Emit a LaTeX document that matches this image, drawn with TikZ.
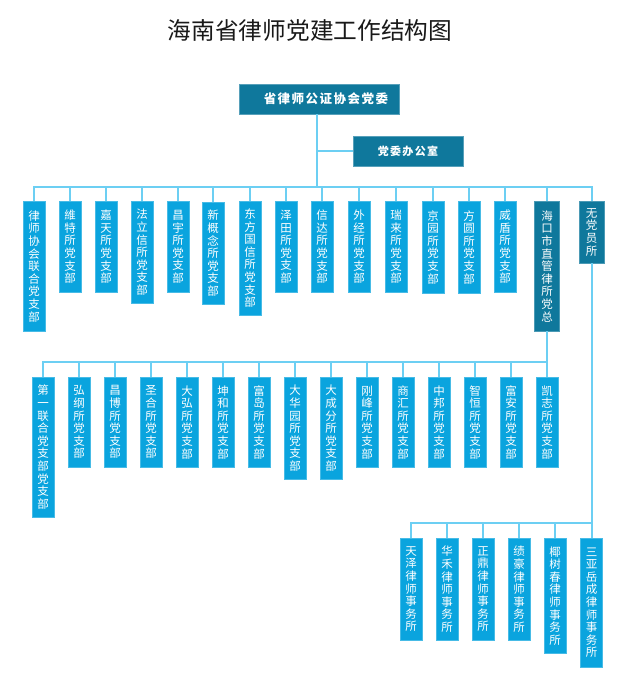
\documentclass[tikz,border=0pt]{standalone}
\usepackage{fontspec}
\newfontfamily\cjk{Noto Sans CJK SC}
\newfontfamily\cjkls[LetterSpace=12]{Noto Sans CJK SC}
\definecolor{lboxc}{HTML}{0AA4DE}
\definecolor{dboxc}{HTML}{0F789C}
\definecolor{connc}{HTML}{6CCFF3}
\makeatletter
\def\vt#1{\vt@a#1\@nil}
\def\vt@a#1{#1\vt@b}
\def\vt@b#1{\ifx#1\@nil\else\\#1\expandafter\vt@b\fi}
\makeatother
\tikzset{
  lb/.style={fill=lboxc, draw=lboxc!75!white, line width=0.5pt, text=white,
    minimum width=22pt, inner sep=0pt, anchor=north, align=center,
    font={\cjk\fontsize{11.5pt}{12.6pt}\selectfont}},
  db/.style={lb, fill=dboxc, draw=dboxc!75!white, minimum width=25pt},
  hb/.style={fill=dboxc, draw=dboxc!70!white, line width=0.6pt, text=white, inner sep=0pt,
    minimum height=30pt},
  cn/.style={draw=connc, line width=2pt},
  bus/.style={cn, line cap=rect},
}
\begin{document}
\begin{tikzpicture}[x=1pt,y=-1pt]
\fill[white] (0,0) rectangle (627,685);
\useasboundingbox (0,0) rectangle (627,685);

\node[font={\cjk\fontsize{23.7pt}{26pt}\selectfont}, text=black!90] (title) at (310,30) {海南省律师党建工作结构图};

\node[hb, minimum width=160pt, font={\cjkls\bfseries\fontsize{12.5pt}{14pt}\selectfont}] (top) at (319,99) {\hspace*{14pt}省律师公证协会党委};
\node[hb, minimum width=110pt, font={\cjkls\bfseries\fontsize{11pt}{13pt}\selectfont}] (office) at (408,151) {党委办公室};

% row 1
\node[lb, minimum height=130pt] (a1) at (34,201) {\vt{律师协会联合党支部}};
\node[lb, minimum height=91pt] (a2) at (70,201) {\vt{維特所党支部}};
\node[lb, minimum height=91pt] (a3) at (106,201) {\vt{嘉天所党支部}};
\node[lb, minimum height=102pt] (a4) at (142,201) {\vt{法立信所党支部}};
\node[lb, minimum height=91pt] (a5) at (178,201) {\vt{昌宇所党支部}};
\node[lb, minimum height=102pt] (a6) at (213,202) {\vt{新概念所党支部}};
\node[lb, minimum height=114pt] (a7) at (250,201) {\vt{东方国信所党支部}};
\node[lb, minimum height=91pt] (a8) at (286,201) {\vt{泽田所党支部}};
\node[lb, minimum height=91pt] (a9) at (322,201) {\vt{信达所党支部}};
\node[lb, minimum height=91pt] (a10) at (359,201) {\vt{外经所党支部}};
\node[lb, minimum height=91pt] (a11) at (396,201) {\vt{瑞来所党支部}};
\node[lb, minimum height=92pt] (a12) at (433,201) {\vt{京园所党支部}};
\node[lb, minimum height=92pt] (a13) at (469,201) {\vt{方圆所党支部}};
\node[lb, minimum height=91pt] (a14) at (505,201) {\vt{威盾所党支部}};
\node[db, minimum height=130pt] (a15) at (547,201) {\vt{海口市直管律所党总}};
\node[db, minimum height=62pt] (a16) at (591.5,201) {\vt{无党员所}};

% row 2
\node[lb, minimum height=140pt] (b1) at (43,377) {\vt{第一联合党支部党支部}};
\node[lb, minimum height=90pt] (b2) at (79,377) {\vt{弘纲所党支部}};
\node[lb, minimum height=90pt] (b3) at (115,377) {\vt{昌博所党支部}};
\node[lb, minimum height=90pt] (b4) at (151,377) {\vt{圣合所党支部}};
\node[lb, minimum height=90pt] (b5) at (187,377) {\vt{大弘所党支部}};
\node[lb, minimum height=90pt] (b6) at (223,377) {\vt{坤和所党支部}};
\node[lb, minimum height=90pt] (b7) at (259,377) {\vt{富岛所党支部}};
\node[lb, minimum height=102pt] (b8) at (295,377) {\vt{大华园所党支部}};
\node[lb, minimum height=102pt] (b9) at (331,377) {\vt{大成分所党支部}};
\node[lb, minimum height=90pt] (b10) at (367,377) {\vt{刚峰所党支部}};
\node[lb, minimum height=90pt] (b11) at (403,377) {\vt{商汇所党支部}};
\node[lb, minimum height=90pt] (b12) at (439,377) {\vt{中邦所党支部}};
\node[lb, minimum height=90pt] (b13) at (475,377) {\vt{智恒所党支部}};
\node[lb, minimum height=90pt] (b14) at (511,377) {\vt{富安所党支部}};
\node[lb, minimum height=90pt] (b15) at (547,377) {\vt{凯志所党支部}};

% row 3
\node[lb, minimum height=102pt] (c1) at (411,538) {\vt{天泽律师事务所}};
\node[lb, minimum height=102pt] (c2) at (447,538) {\vt{华禾律师事务所}};
\node[lb, minimum height=102pt] (c3) at (483,538) {\vt{正鼎律师事务所}};
\node[lb, minimum height=102pt] (c4) at (519,538) {\vt{绩豪律师事务所}};
\node[lb, minimum height=115pt] (c5) at (555,538) {\vt{椰树春律师事务所}};
\node[lb, minimum height=129pt] (c6) at (591.5,538) {\vt{三亚岳成律师事务所}};

% connectors
\coordinate (busA) at (317,187);
\coordinate (busB) at (0,362);
\coordinate (busC) at (0,523);
\draw[cn] (top.south -| busA) -- (busA);
\draw[cn] (office.west) -- (office.west -| busA);
\draw[bus] (a1.north |- busA) -- (a16.north |- busA);
\foreach \n in {a1,a2,a3,a4,a5,a6,a7,a8,a9,a10,a11,a12,a13,a14,a15,a16}
  \draw[cn] (\n.north) -- (\n.north |- busA);
\draw[bus] (a15.south) -- (a15.south |- busB);
\draw[bus] (b1.north |- busB) -- (b15.north |- busB);
\foreach \n in {b1,b2,b3,b4,b5,b6,b7,b8,b9,b10,b11,b12,b13,b14,b15}
  \draw[cn] (\n.north) -- (\n.north |- busB);
\draw[bus] (a16.south) -- (a16.south |- busC);
\draw[bus] (c1.north |- busC) -- (c6.north |- busC);
\foreach \n in {c1,c2,c3,c4,c5,c6}
  \draw[cn] (\n.north) -- (\n.north |- busC);
\end{tikzpicture}
\end{document}
